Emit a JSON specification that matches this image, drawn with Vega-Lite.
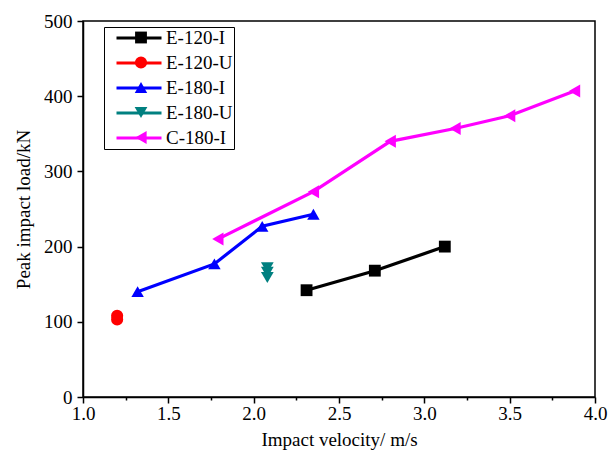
{
  "$schema": "https://vega.github.io/schema/vega-lite/v6.json",
  "width": 512,
  "height": 376,
  "autosize": {"type": "none"},
  "padding": {"left": 83, "top": 21, "right": 13, "bottom": 57},
  "background": "white",
  "config": {
    "font": "Liberation Serif",
    "view": {"stroke": "black", "strokeWidth": 1.5},
    "axis": {
      "grid": false,
      "domainColor": "black",
      "domainWidth": 1.5,
      "tickColor": "black",
      "tickWidth": 1.5,
      "labelColor": "black",
      "labelFont": "Liberation Serif",
      "labelFontSize": 19,
      "titleFont": "Liberation Serif",
      "titleFontSize": 19,
      "titleFontWeight": "normal",
      "titleColor": "black",
      "labelOverlap": false,
      "labelFlush": false
    }
  },
  "data": {
    "values": [
      {"series": "E-120-I", "v": 2.31, "load": 142},
      {"series": "E-120-I", "v": 2.71, "load": 168},
      {"series": "E-120-I", "v": 3.12, "load": 200},
      {"series": "E-120-U", "v": 1.2, "load": 108},
      {"series": "E-120-U", "v": 1.2, "load": 103},
      {"series": "E-180-I", "v": 1.32, "load": 140},
      {"series": "E-180-I", "v": 1.77, "load": 177},
      {"series": "E-180-I", "v": 2.05, "load": 227},
      {"series": "E-180-I", "v": 2.35, "load": 243},
      {"series": "E-180-U", "v": 2.08, "load": 172},
      {"series": "E-180-U", "v": 2.08, "load": 166},
      {"series": "E-180-U", "v": 2.08, "load": 159},
      {"series": "C-180-I", "v": 1.79, "load": 210},
      {"series": "C-180-I", "v": 2.35, "load": 273},
      {"series": "C-180-I", "v": 2.8, "load": 340},
      {"series": "C-180-I", "v": 3.18, "load": 357},
      {"series": "C-180-I", "v": 3.5, "load": 374},
      {"series": "C-180-I", "v": 3.88, "load": 407}
    ]
  },
  "layer": [
    {
      "mark": {"type": "line", "strokeWidth": 3.2},
      "encoding": {
        "x": {
          "field": "v",
          "type": "quantitative",
          "scale": {"domain": [1, 4], "nice": false, "zero": false},
          "axis": {
            "title": "Impact velocity/ m/s",
            "values": [1, 1.25, 1.5, 1.75, 2, 2.25, 2.5, 2.75, 3, 3.25, 3.5, 3.75, 4],
            "labelExpr": "datum.value % 0.5 == 0 ? format(datum.value, '.1f') : ''",
            "tickSize": {"condition": {"test": "datum.value % 0.5 != 0", "value": 3}, "value": 6},
            "labelPadding": 1,
            "titlePadding": 7
          }
        },
        "y": {
          "field": "load",
          "type": "quantitative",
          "scale": {"domain": [0, 500], "nice": false},
          "axis": {
            "title": "Peak impact load/kN",
            "values": [0, 50, 100, 150, 200, 250, 300, 350, 400, 450, 500],
            "labelExpr": "datum.value % 100 == 0 ? datum.label : ''",
            "tickSize": {"condition": {"test": "datum.value % 100 != 0", "value": 3}, "value": 6},
            "labelPadding": 5,
            "titlePadding": 10
          }
        },
        "stroke": {
          "field": "series",
          "type": "nominal",
          "sort": ["E-120-I", "E-120-U", "E-180-I", "E-180-U", "C-180-I"],
          "scale": {
            "range": ["#000000", "#ff0000", "#0000ff", "#008080", "#ff00ff"]
          },
          "legend": {
            "orient": "none",
            "legendX": 21,
            "legendY": 6,
            "title": null,
            "symbolType": "M-2.8125,0H2.8125",
            "symbolSize": 256,
            "symbolStrokeWidth": 3.2,
            "labelFont": "Liberation Serif",
            "labelFontSize": 19,
            "labelColor": "black",
            "labelExpr": "datum.label + '\u2003'",
            "rowPadding": 5,
            "padding": 1,
            "strokeColor": "black",
            "symbolOffset": 24,
            "labelOffset": 17
          }
        },
        "order": {"field": "v", "type": "quantitative"}
      }
    },
    {
      "mark": {"type": "point", "filled": true, "opacity": 1, "strokeWidth": 0},
      "encoding": {
        "x": {"field": "v", "type": "quantitative"},
        "y": {"field": "load", "type": "quantitative"},
        "fill": {
          "field": "series",
          "type": "nominal",
          "scale": {
            "domain": ["E-120-I", "E-120-U", "E-180-I", "E-180-U", "C-180-I"],
            "range": ["#000000", "#ff0000", "#0000ff", "#008080", "#ff00ff"]
          },
          "legend": {
            "orient": "none",
            "legendX": 21,
            "legendY": 6,
            "title": null,
            "symbolStrokeWidth": 0,
            "labelFont": "Liberation Serif",
            "labelFontSize": 19,
            "labelExpr": "''",
            "rowPadding": 5,
            "padding": 1,
            "symbolOffset": 26.5
          }
        },
        "shape": {
          "field": "series",
          "type": "nominal",
          "scale": {
            "domain": ["E-120-I", "E-120-U", "E-180-I", "E-180-U", "C-180-I"],
            "range": ["square", "circle", "triangle-up", "triangle-down", "triangle-left"]
          },
          "legend": {
            "orient": "none",
            "legendX": 21,
            "legendY": 6,
            "title": null,
            "symbolStrokeWidth": 0,
            "labelFont": "Liberation Serif",
            "labelFontSize": 19,
            "labelExpr": "''",
            "rowPadding": 5,
            "padding": 1,
            "symbolOffset": 26.5
          }
        },
        "size": {
          "field": "series",
          "type": "nominal",
          "scale": {
            "domain": ["E-120-I", "E-120-U", "E-180-I", "E-180-U", "C-180-I"],
            "range": [140, 170, 260, 260, 260]
          },
          "legend": {
            "orient": "none",
            "legendX": 21,
            "legendY": 6,
            "title": null,
            "symbolStrokeWidth": 0,
            "labelFont": "Liberation Serif",
            "labelFontSize": 19,
            "labelExpr": "''",
            "rowPadding": 5,
            "padding": 1,
            "symbolOffset": 26.5
          }
        }
      }
    }
  ]
}
